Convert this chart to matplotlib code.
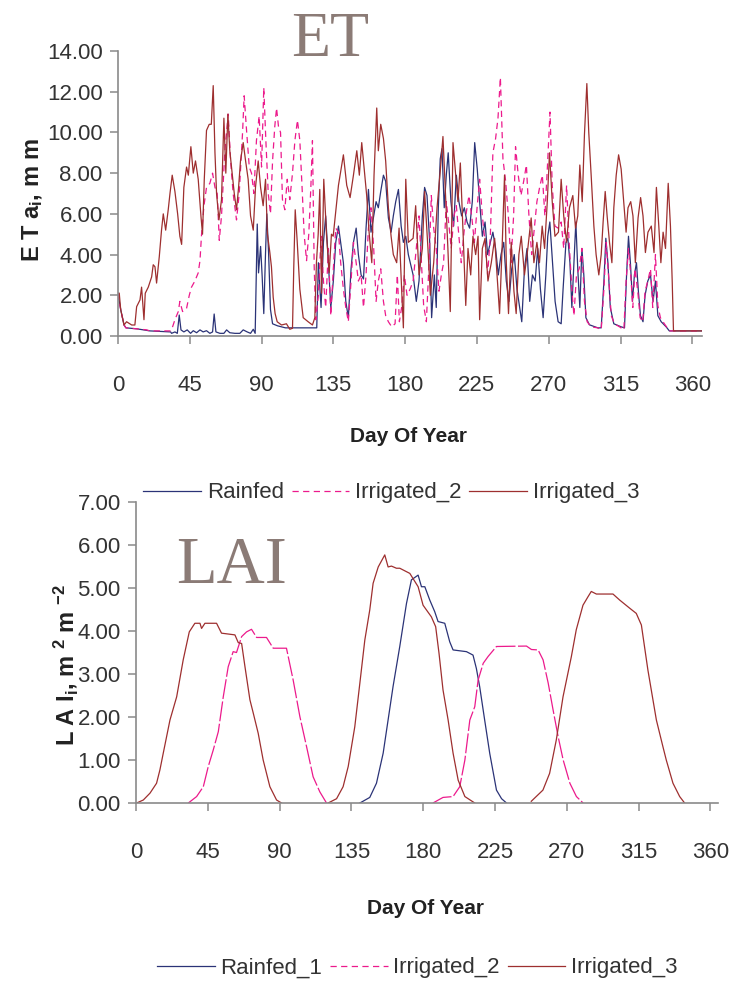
"""ET and LAI time series for rainfed and irrigated crops."""
import numpy as np
import matplotlib
matplotlib.use("Agg")
import matplotlib.pyplot as plt
from matplotlib.lines import Line2D

nan = float("nan")

et_rain_day = [0, 1.7, 3.8, 5, 12, 20, 33, 33.6, 35.7, 37.2, 38.4, 39.5, 41.3, 43.4, 45.5,
               47.2, 49.3, 51.4, 53.4, 55.5, 57.6, 59.3, 60.3, 61.4, 63.9, 66.4, 68.1, 70.1,
               73.3, 76.4, 78.5, 81, 83.1, 84.8, 86, 87.3, 88.1, 89.4, 90.4, 91.4, 92.5, 93.3,
               94.4, 95.6, 96.9, 100, 105, 110, 115, 120, 124.6, 125.6, 127.3, 128.8, 130.2,
               131.9, 133.4, 135, 136.5, 138.2, 139.6, 141.3, 142.8, 144.4, 146.1, 147.6,
               149.3, 150.7, 152.4, 153.9, 155.5, 157, 158.6, 160.3, 161.8, 163.2, 164.7,
               166.4, 167.8, 169.5, 171.2, 172.6, 174.1, 175.8, 177.5, 178.9, 180.4, 182,
               185, 187, 188.7, 190.8, 192.2, 193.7, 195.4, 196.6, 198.3, 199.5, 200.8, 202,
               203.1, 204.5, 205.8, 207, 208.7, 210.4, 212.1, 213.7, 215.4, 217.1, 218.8,
               220.4, 222.1, 223.6, 225.2, 226.7, 228.4, 230.1, 231.7, 233.4, 235, 236.7,
               238.4, 240.1, 241.8, 243.4, 245.1, 246.8, 248.4, 250.1, 251.8, 253.1, 254.8,
               256.4, 258.1, 259.8, 261.5, 263.1, 264.8, 266.5, 268.2, 269.4, 270.7, 272.4,
               274, 275.9, 277.8, 279, 280.8, 282, 283.3, 284.5, 285.8, 287, 288.2, 289.5,
               290.8, 292, 293.3, 295.5, 300.8, 302.9, 304.6, 305.8, 307.1, 308.6, 310.8,
               315.4, 317.5, 318.8, 320, 321.2, 322.5, 323.7, 325, 326.2, 327.5, 329.1,
               330.4, 332.1, 333.8, 335.4, 336.9, 338.4, 340.5, 343.6, 345.6, 365.7]
et_rain = [2.1, 1.3, 0.54, 0.4, 0.35, 0.25, 0.2, 0.13, 0.2, 0.13, 1.03, 0.3, 0.2, 0.3, 0.13,
           0.26, 0.16, 0.3, 0.2, 0.26, 0.13, 0.2, 1.08, 0.2, 0.13, 0.13, 0.3, 0.16,
           0.13, 0.13, 0.3, 0.2, 0.13, 0.33, 0.13, 5.5, 3.1, 4.4, 2.9, 1.1, 4.1, 6.0,
           4.1, 1.3, 0.6, 0.5, 0.4, 0.4, 0.4, 0.4, 0.4, 3.6, 1.4, 4.6, 5.9,
           3.6, 1.4, 2.7, 4.6, 5.4, 4.6, 3.6, 1.7, 0.9, 3.3, 4.6,
           5.3, 4.0, 3.0, 2.8, 5.3, 7.2, 5.1, 5.9, 6.6, 6.3, 7.1,
           7.9, 7.6, 5.8, 5.1, 5.9, 6.6, 7.2, 5.4, 4.6, 4.9, 4.0,
           3.0, 1.7, 2.7, 5.9, 7.3, 6.9, 4.6, 0.9, 3.0, 1.4, 6.3, 8.7,
           9.2, 6.3, 7.9, 9.0, 6.6, 5.4, 7.9, 6.6, 5.9, 6.3, 5.6,
           5.3, 6.6, 9.5, 8.2, 6.6, 4.9, 5.6, 4.0, 4.6, 5.1, 4.3,
           3.0, 4.0, 4.6, 2.7, 1.7, 3.3, 4.0, 2.3, 1.4, 0.7, 3.3,
           4.3, 1.7, 3.0, 2.7, 4.3, 2.3, 0.9, 3.0, 4.9, 5.6, 3.6,
           1.7, 0.7, 0.6, 2.3, 4.6, 4.8, 3.6, 1.4, 3.6, 5.6, 3.3, 1.4,
           4.3, 3.0, 0.9, 0.55, 0.4, 0.4, 2.7, 4.8, 3.6, 1.4, 0.6,
           0.45, 0.4, 3.0, 4.9, 3.6, 1.7, 3.0, 3.6, 2.2, 1.0, 0.7,
           2.0, 2.7, 3.0, 1.7, 2.7, 1.0, 0.7, 0.45, 0.25, 0.25]

et_irr2_day = [0, 1.7, 3.8, 5, 12, 18, 20, 33, 33.6, 35.7, 37.8, 38.8, 40.5, 43, 44.7, 46.1,
               48.2, 50.3, 51.4, 52.4, 53.9, 55.5, 57.6, 59.3, 60.8, 62.2, 63.5, 64.9, 67,
               69.1, 70.6, 72.2, 74.3, 76, 78.1, 79.1, 80.6, 82.3, 83.7, 85.2, 86.8, 88.5, 90,
               91.4, 92.7, 94.2, 95.6, 96.9, 98.3, 99.4, 100.6, 101.9, 103.1, 104.6, 106.1,
               107.7, 109.4, 110.9, 112.5, 114, 115.4, 116.7, 118.2, 119.6, 120.9, 121.9, 123,
               124, 125.6, 127.3, 128.8, 130.2, 131.9, 133.4, 135, 136.5, 138.2, 139.6, 141.3,
               142.8, 144.4, 146.1, 147.6, 149.3, 150.7, 152.4, 153.9, 155.5, 157, 158.6,
               160.3, 161.8, 163.2, 164.7, 166.4, 167.8, 169.5, 171.6, 173.7, 175.1, 176.4,
               177.8, 179.5, 181.2, 183.1, 185, 187, 188.7, 190.2, 191.6, 193.3, 195, 196.4,
               197.9, 199.5, 201.2, 202.7, 204.1, 205.8, 207.5, 208.9, 210.6, 212.1, 213.7,
               215.2, 216.9, 218.4, 220, 221.7, 223.4, 225.1, 226.7, 228.4, 230.1, 231.7,
               233.4, 235, 236.7, 238.2, 239.7, 241.3, 243, 244.7, 246.3, 248, 249.2, 250.9,
               252.6, 254.3, 256, 257.6, 259.3, 261, 262.6, 264.3, 266, 267.6, 269.3, 270.8,
               272.2, 273.9, 275.8, 277.8, 279.4, 281.2, 282.8, 284.5, 285.8, 287.4, 289.1,
               290.8, 292.4, 294.1, 296.6, 300.8, 302.9, 304.6, 306, 307.5, 309.2, 311.2,
               314.4, 317.1, 318.5, 320, 321.4, 322.7, 324.1, 325.8, 327.3, 328.9, 330.4,
               332.1, 333.8, 335.2, 336.9, 338.4, 340, 342.5, 345.6, 365.7]
et_irr2 = [2.1, 1.3, 0.54, 0.4, 0.35, 0.3, 0.25, 0.25, 0.3, 0.8, 1.2, 1.7, 1.2, 1.36, 2.0, 2.4,
           2.7, 3.1, 3.7, 5.0, 6.4, 7.3, 7.5, 8.0, 7.3, 7.0, 4.7, 5.9, 9.1,
           10.9, 8.6, 7.0, 5.7, 7.0, 10.0, 11.8, 10.1, 8.3, 8.0, 7.0, 9.6, 10.8, 8.3,
           12.2, 9.6, 7.0, 6.0, 8.6, 10.3, 11.2, 10.3, 10.0, 6.7, 6.2, 7.7,
           6.7, 8.0, 9.6, 10.6, 9.6, 7.3, 5.0, 3.7, 5.0, 7.3, 9.6, 3.4,
           0.8, 2.0, 4.9, 2.7, 1.4, 4.3, 1.0, 3.3, 5.3, 5.1, 3.6, 2.3,
           1.4, 0.7, 2.7, 4.6, 3.6, 2.7, 3.0, 1.4, 3.0, 5.3, 6.3,
           4.3, 1.7, 2.7, 3.3, 1.7, 1.0, 0.7, 0.45, 0.6, 3.0, 0.7,
           1.4, 3.0, 2.0, 2.3, 2.7, 4.3, 5.9, 3.6, 1.5, 0.7, 3.6, 6.9,
           5.3, 4.3, 2.2, 3.0, 3.6, 6.6, 5.4, 4.3, 5.9, 6.4, 4.9,
           3.6, 5.1, 6.1, 6.9, 5.9, 4.6, 6.3, 7.7, 5.9, 4.6, 3.0,
           4.9, 9.0, 9.7, 10.7, 12.7, 8.7, 7.6, 5.9, 3.6, 5.9, 9.3, 7.9,
           6.9, 7.6, 8.4, 5.9, 4.0, 5.3, 6.6, 7.3, 7.9, 5.9, 8.5, 11.0,
           7.4, 5.4, 5.3, 5.6, 4.3, 7.4, 4.6, 2.3, 1.0, 3.0, 3.3,
           4.3, 1.7, 0.7, 0.45, 0.4, 0.3, 2.3, 4.6, 3.0, 1.0, 0.6,
           0.45, 0.3, 2.7, 4.3, 3.0, 1.4, 3.3, 2.2, 0.9, 0.7, 2.2,
           2.7, 3.3, 1.4, 4.0, 1.5, 0.9, 0.6, 0.25, 0.25]

et_irr3_day = [0.8, 1.7, 3.8, 5.4, 8.6, 10.6, 11.7, 13.8, 14.8, 16.3, 17.1, 19, 21.1, 22.1,
               23.2, 24.2, 25.9, 27.3, 28.4, 29.9, 31.5, 32.6, 34, 35.7, 37.4, 38.8, 39.9,
               41.3, 43, 44.1, 45.7, 47.2, 48.6, 50.3, 52, 53, 54.1, 55.5, 57.2, 58.5, 59.7,
               60.8, 61.8, 63.3, 64.9, 66.4, 67.6, 68.9, 70.1, 71.6, 72.9, 74.3, 75.6, 76.8,
               78.5, 80, 81.6, 83.1, 84.8, 86.2, 87.9, 89.4, 91, 92.5, 93.7, 95.2, 96.2, 97.3,
               98.5, 99.8, 102.5, 105.6, 107.7, 109.4, 110.2, 111.1, 112.3, 114, 116.1, 119.2,
               121.9, 123.4, 124.4, 125.5, 126.5, 127.6, 129, 130.7, 132.4, 133.8, 134.9,
               138.2, 141.3, 143.4, 145.5, 147.6, 149.7, 151.3, 152.8, 154.5, 155.9, 157.4,
               159.1, 160.5, 162.2, 163.2, 164.7, 166.4, 167.8, 169.5, 171.2, 172.6, 174.7,
               176.2, 177.8, 178.9, 180.4, 182, 185, 186.6, 188.7, 190.8, 192.2, 194.3, 195.8,
               197.9, 200, 202, 203.7, 205.2, 206.8, 208.3, 210, 211.7, 213.1, 214.6, 216.3,
               218, 219.4, 221.1, 222.5, 224.2, 225.7, 226.7, 228.4, 230.1, 231.9, 234, 236.1,
               237.6, 239.2, 240.9, 242.3, 243.4, 244.8, 246.5, 248.2, 249.6, 251.3, 252.8,
               254.8, 256.9, 259, 260.7, 262.6, 264.2, 265.9, 267.4, 269.1, 270.5, 272.2,
               273.9, 276.1, 277.8, 279.4, 281.2, 283, 285.1, 286.8, 288.2, 289.5, 291,
               292.4, 293.9, 295.1, 296.6, 298.3, 299.7, 301.4, 302.9, 304.1, 305.4, 306.6,
               308.1, 309.6, 310.8, 312.3, 313.8, 315.4, 317, 318.5, 319.7, 321.4, 322.8,
               324.3, 326, 327.6, 329.1, 330.6, 332.2, 334.3, 336, 337.5, 339, 340.3, 341.7,
               343.2, 344.9, 346.3, 347.4, 348.2, 365.7]
et_irr3 = [2.1, 1.3, 0.54, 0.7, 0.54, 0.54, 1.44, 1.77, 2.4, 0.8, 2.1, 2.4, 2.9, 3.5,
           3.4, 2.6, 3.9, 5.2, 6.0, 5.2, 6.2, 7.0, 7.9, 7.1, 6.0, 4.9, 4.5,
           7.3, 8.3, 7.9, 9.3, 8.0, 8.6, 7.7, 5.9, 5.0, 7.7, 10.1, 10.4, 10.4, 12.3,
           9.0, 7.0, 5.7, 6.7, 10.7, 8.0, 10.9, 9.1, 8.0, 7.0, 6.2, 7.3, 8.6,
           9.5, 8.6, 7.7, 5.9, 5.2, 7.3, 8.6, 7.3, 6.4, 7.7, 5.0, 4.1, 3.4, 1.9,
           1.1, 0.7, 0.54, 0.6, 0.33, 0.38, 3.4, 6.2, 4.7, 2.3, 0.9, 0.7,
           0.54, 0.9, 3.6, 5.0, 7.2, 2.1, 7.7, 5.0, 3.1, 5.0, 4.9,
           7.4, 8.9, 7.4, 6.8, 7.9, 9.1, 7.9, 9.5, 8.1, 6.9, 5.1,
           3.6, 7.9, 11.2, 9.1, 10.4, 9.7, 8.6, 6.3, 4.9, 4.0, 3.6,
           5.3, 2.3, 0.4, 7.7, 4.6, 4.8, 6.4, 3.0, 4.3, 7.1, 4.3, 2.0,
           3.6, 6.3, 8.1, 9.8, 7.1, 4.3, 1.2, 9.5, 7.9, 6.6, 8.5, 5.1,
           1.5, 4.3, 3.0, 4.9, 4.0, 4.9, 0.8, 4.3, 4.8, 2.7, 3.6, 4.8,
           3.0, 1.1, 4.6, 7.9, 3.6, 1.1, 4.6, 2.2, 1.1, 4.0, 4.9,
           3.0, 4.3, 5.8, 3.6, 4.6, 3.6, 5.4, 4.3, 6.6, 9.0, 6.6,
           4.9, 5.1, 7.7, 5.9, 4.6, 6.3, 6.9, 5.3, 5.9, 8.4, 6.6,
           9.9, 12.4, 10.0, 7.9, 5.4, 4.0, 3.0, 4.0, 5.6, 7.1, 5.9,
           4.6, 3.6, 6.3, 7.9, 8.9, 8.2, 6.6, 5.1, 6.3, 6.6, 5.9,
           3.6, 5.8, 6.8, 5.9, 4.1, 5.1, 5.4, 4.1, 7.3, 5.4, 3.6, 5.1,
           4.3, 7.5, 5.4, 2.7, 0.25, 0.25]

# ---- LAI (m2 m-2); nan = no line drawn ----
lai_rain_day = [140.3, 146.5, 150.7, 154.9, 161.1, 165.3, 169.5, 172.6, 176.8, 178.9, 181,
                184.1, 187.2, 189.3, 193.5, 196.6, 198.7, 207.1, 211.2, 213.3, 215.4, 218.5,
                221.7, 225.9, 229.1, 232.2]
lai_rain = [0.0, 0.13, 0.46, 1.16, 2.71, 3.64, 4.64, 5.19, 5.30, 5.03, 5.03,
            4.72, 4.45, 4.22, 4.18, 3.75, 3.56, 3.52, 3.44, 3.13, 2.70, 1.93,
            1.15, 0.30, 0.10, 0.0]

lai_irr2_day = [32.8, 38, 42.2, 45.3, 48.4, 51.6, 54.7, 57.8, 60.9, 63, 66.2, 69.3, 72.4, 75.6,
                81.8, 86, 94.3, 98.5, 102.7, 106.9, 111, 115.2, 119.4, 150,
                186.1, 192.4, 198.7, 202.9, 206.1, 209.2, 212.3, 214.4, 217.6, 220.7, 225.9,
                244.7, 247.8, 252, 255.1, 258.3, 261.4, 264.5, 267.7, 271.9, 276, 280.2]
lai_irr2 = [0.0, 0.15, 0.38, 0.85, 1.23, 1.66, 2.47, 3.17, 3.52, 3.50, 3.87, 3.98, 4.04, 3.85,
            3.85, 3.60, 3.60, 2.86, 2.01, 1.31, 0.61, 0.26, 0.0, nan,
            0.0, 0.13, 0.15, 0.38, 1.0, 1.93, 2.24, 2.86, 3.25, 3.41, 3.64,
            3.65, 3.57, 3.56, 3.33, 2.79, 2.16, 1.55, 1.0, 0.46, 0.15, 0.0]

lai_irr3_day = [0.4, 4.6, 8.8, 12.9, 15, 17.1, 21.3, 25.5, 29.6, 33.4, 36.9, 40.1, 41.1, 43.2,
                50.5, 53.6, 62, 64.1, 66.2, 68.3, 71.4, 73.5, 76.6, 79.7, 83.9, 88.1, 91.2,
                105, 120.4, 125.7, 129.8, 133, 137.1, 140.3, 143.4, 146.5, 148.6, 151.8, 155.9,
                158, 160.1, 163.2, 165.3, 171.6, 176.8, 179.9, 185.1, 187.8, 189.9, 192.4,
                195.6, 198.7, 201.9, 206.1, 212.3, 230,
                247.7, 255, 259.2, 263.4, 267.6, 272.8, 275.9, 280.1, 283.3, 285.3, 288.5,
                298.9, 303.1, 309.4, 313.5, 316.7, 320.8, 326.1, 330.2, 332.3, 336.5, 340.7,
                343.8]
lai_irr3 = [0.0, 0.07, 0.23, 0.46, 0.77, 1.16, 1.93, 2.47, 3.33, 3.98, 4.18, 4.18, 4.06, 4.18,
            4.18, 3.95, 3.91, 3.73, 3.71, 3.17, 2.40, 2.09, 1.62, 1.0, 0.38, 0.07, 0.0,
            nan, 0.0, 0.10, 0.38, 0.85, 1.77, 2.79, 3.79, 4.49, 5.11, 5.49, 5.77,
            5.49, 5.51, 5.46, 5.46, 5.34, 5.03, 4.60, 4.33, 4.10, 3.48, 2.63,
            1.93, 1.16, 0.53, 0.15, 0.0, nan,
            0.04, 0.30, 0.69, 1.47, 2.47, 3.40, 4.03, 4.60, 4.80, 4.92, 4.86,
            4.86, 4.72, 4.53, 4.41, 4.14, 3.09, 1.93, 1.31, 1.0, 0.46, 0.15,
            0.0]

names_top = ["Rainfed", "Irrigated_2", "Irrigated_3"]
names_bottom = ["Rainfed_1", "Irrigated_2", "Irrigated_3"]
colors = ["#2b3377", "#ec1a8c", "#9e2f2f"]
day_ticks = list(range(0, 361, 45))

plt.rcParams["font.family"] = ["Liberation Sans", "DejaVu Sans"]
plt.rcParams["mathtext.default"] = "regular"

fig = plt.figure(figsize=(7.41, 9.83), dpi=100)
ax1 = fig.add_axes([0.1592, 0.6582, 0.788, 0.2899])
ax2 = fig.add_axes([0.1835, 0.1831, 0.785, 0.3062])

gray = "#8a8a8a"
lw = 0.9
dash_short = (0, (5, 3.5))
et_styles = ["-", dash_short, "-"]
# the LAI curve of Irrigated_2 looks almost solid, only a few gaps
lai_styles = ["-", (0, (16, 2)), "-"]

et_sets = [(et_rain_day, et_rain), (et_irr2_day, et_irr2), (et_irr3_day, et_irr3)]
for (d, v), c, ls in zip(et_sets, colors, et_styles):
  ax1.plot(d, v, color=c, lw=lw, ls=ls)

lai_sets = [(lai_rain_day, lai_rain), (lai_irr2_day, lai_irr2), (lai_irr3_day, lai_irr3)]
for (d, v), c, ls in zip(lai_sets, colors, lai_styles):
  ax2.plot(d, v, color=c, lw=lw, ls=ls)

for ax, ymax, step in [(ax1, 14, 2), (ax2, 7, 1)]:
  ax.set_ylim(0, ymax)
  ax.set_yticks(np.arange(0, ymax + 0.1, step))
  ax.set_yticklabels([f"{t:.2f}" for t in np.arange(0, ymax + 0.1, step)])
  ax.set_xticks(day_ticks)
  for s in ["top", "right"]:
    ax.spines[s].set_visible(False)
  for s in ["left", "bottom"]:
    ax.spines[s].set_color(gray)
    ax.spines[s].set_linewidth(1.2)
  ax.tick_params(axis="both", direction="out", length=6, width=1.1, color=gray,
                 labelsize=16, labelcolor="#333333")
  ax.tick_params(axis="x", pad=22)
  ax.tick_params(axis="y", pad=5)
  ax.set_xlabel("Day Of Year", fontsize=15, fontweight="bold", color="#222222")

ax1.set_xlim(0, 366)
ax2.set_xlim(0, 364.5)

ax1.set_ylabel(r"E T a$_{i}$, m m", fontsize=17, fontweight="bold", color="#222222")
ax2.set_ylabel(r"L A I$_{i}$, m $^{2}$ m $^{-2}$", fontsize=17, fontweight="bold",
               color="#222222")
ax1.yaxis.set_label_coords(-0.125, 0.477)
ax2.yaxis.set_label_coords(-0.097, 0.458)
ax1.xaxis.set_label_coords(0.497, -0.319)
ax2.xaxis.set_label_coords(0.497, -0.319)

fig.text(0.445, 0.958, "ET", family="Liberation Serif", fontsize=46, color="#8b7b76",
         ha="center", va="center")
fig.text(0.312, 0.424, "LAI", family="Liberation Serif", fontsize=48, color="#8b7b76",
         ha="center", va="center")

# legend handles: short dashes for the irrigated_2 entry in both legends
handles = [Line2D([], [], color=c, lw=lw, ls=ls) for c, ls in zip(colors, et_styles)]
leg_kw = dict(ncol=3, frameon=False, fontsize=16, handlelength=2.6, handletextpad=0.25,
              columnspacing=0.35, loc="center")
leg1 = fig.legend(handles, names_top, bbox_to_anchor=(0.528, 0.4985), **leg_kw)
leg2 = fig.legend(handles, names_bottom, bbox_to_anchor=(0.563, 0.0153), **leg_kw)
for leg in (leg1, leg2):
  for t in leg.get_texts():
    t.set_color("#333333")

plt.savefig("out.png", dpi=100)
